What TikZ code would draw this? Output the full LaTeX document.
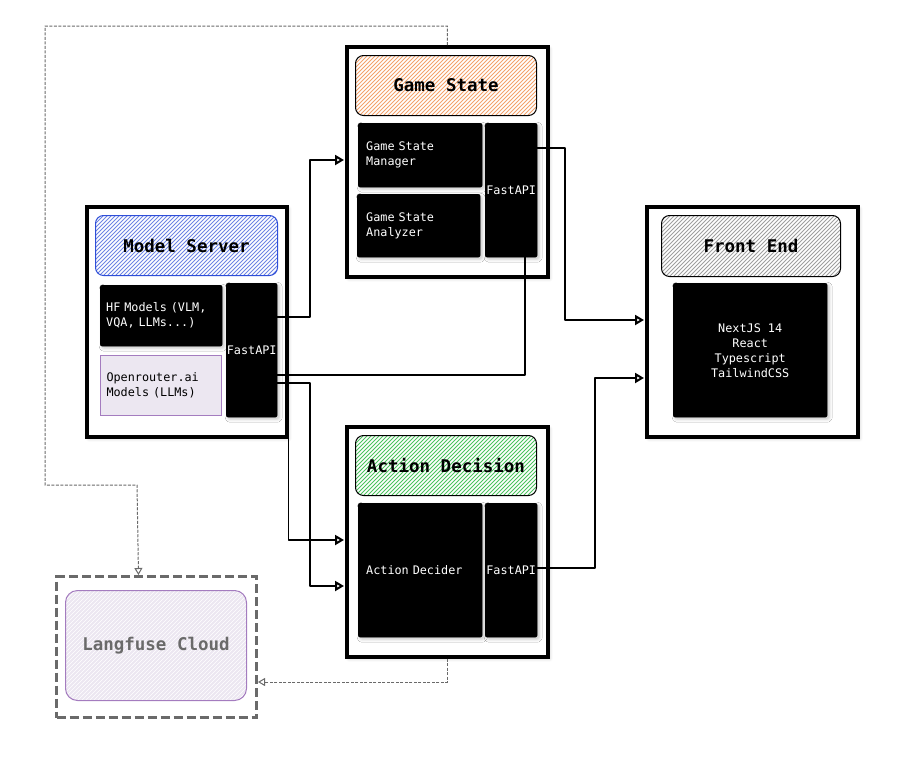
\documentclass[tikz,border=0pt]{standalone}
\usepackage{fontspec}
\setmonofont{DejaVu Sans Mono}
\usetikzlibrary{positioning, calc, arrows.meta, shadows.blur}
\definecolor{msblue}{HTML}{2F4FD8}
\definecolor{gsorange}{HTML}{F4A26B}
\definecolor{adgreen}{HTML}{4CC35E}
\definecolor{lavfill}{HTML}{ECE7F1}
\definecolor{lavline}{HTML}{A47CBF}
\definecolor{lfgray}{HTML}{6A6A6A}
\tikzset{sized/.style 2 args={minimum width=#1, minimum height=#2}}
\tikzset{softshadow/.style={blur shadow={shadow xshift=2pt, shadow yshift=-2pt, shadow blur radius=3pt, shadow opacity=22}}}
\tikzset{hatched/.style 2 args={path picture={
    \foreach \i in {-200,-196,...,220}
      \draw[#1, line width=#2] ([xshift=\i pt]path picture bounding box.south west) -- ++(120pt,120pt);}}}
\tikzset{outerbox/.style={draw=black, line width=3.5pt, fill=white, softshadow, anchor=north west, inner sep=0pt}}
\tikzset{titlebox/.style 2 args={draw=#1, line width=1pt, rounded corners=8pt, fill=white, hatched={#2}{1pt}, font=\ttfamily\bfseries\fontsize{17.5}{20}\selectfont, anchor=north west, inner sep=0pt}}
\tikzset{blk/.style={draw=black, fill=black, rounded corners=2pt, text=white, softshadow, font=\ttfamily\fontsize{11.8}{15}\selectfont, anchor=north west, inner sep=0pt}}
\tikzset{lefttext/.style={align=left, text width=#1, inner xsep=7pt}}
\tikzset{lavbox/.style={draw=lavline, line width=1pt, fill=lavfill, font=\ttfamily\fontsize{11.8}{15}\selectfont, anchor=north west, inner sep=0pt}}
\tikzset{arr/.style={draw, line width=1.6pt, line join=round, shorten >=1pt, -{Triangle[open, length=9pt, width=10pt, line width=2pt]}}}
\tikzset{wire/.style={draw, line width=1.6pt, line join=round}}
\tikzset{darr/.style={draw=lfgray, line width=1pt, dash pattern=on 3pt off 1.5pt, -{Triangle[open, length=7pt, width=8pt]}}}
\begin{document}
\begin{tikzpicture}[x=1pt, y=-1pt]
  \useasboundingbox (0,0) rectangle (918,779);
  % Model Server
  \node[outerbox, sized={200pt}{230pt}] (ms) at (85,205) {};
  \node[titlebox={msblue}{msblue!70}, sized={182pt}{60pt}] (mst) at (95,215) {Model Server};
  \node[blk, lefttext=110pt, sized={122pt}{61pt}, inner xsep=6pt] (hf) at (100,285) {HF Models (VLM,\\VQA, LLMs...)};
  \node[lavbox, lefttext=109pt, sized={121pt}{60pt}, inner xsep=6pt] (or) at (100,355) {Openrouter.ai\\Models (LLMs)};
  \node[blk, sized={51pt}{134pt}] (msapi) at (226,283) {FastAPI};
  % Game State
  \node[outerbox, sized={201pt}{230pt}] (gs) at (345,45) {};
  \node[titlebox={black}{gsorange}, sized={181pt}{60pt}] (gst) at (355,55) {Game State};
  \node[blk, lefttext=108pt, sized={124pt}{64pt}, inner xsep=8pt] (gsm) at (358,123) {Game State\\Manager};
  \node[blk, lefttext=105pt, sized={123pt}{63pt}, inner xsep=9pt] (gsa) at (357,194) {Game State\\Analyzer};
  \node[blk, sized={52pt}{134pt}] (gsapi) at (485,123) {FastAPI};
  % Action Decision
  \node[outerbox, sized={201pt}{230pt}] (ad) at (345,425) {};
  \node[titlebox={black}{adgreen}, sized={181pt}{60pt}] (adt) at (355,435) {Action Decision};
  \node[blk, lefttext=108pt, sized={124pt}{134pt}, inner xsep=8pt] (add) at (358,503) {Action Decider};
  \node[blk, sized={52pt}{134pt}] (adapi) at (485,503) {FastAPI};
  % Front End
  \node[outerbox, sized={211pt}{230pt}] (fe) at (645,205) {};
  \node[titlebox={black}{gray!75}, sized={179pt}{61pt}] (fet) at (661,215) {Front End};
  \node[blk, sized={154pt}{134pt}, align=center] (fej) at (673,283) {NextJS 14\\React\\Typescript\\TailwindCSS};
  % Langfuse
  \node[draw=lfgray, line width=3pt, dash pattern=on 9pt off 4pt, sized={200pt}{141pt}, anchor=north west, inner sep=0pt] (lf) at (55,575) {};
  \node[draw=lavline, line width=1pt, rounded corners=12pt, fill=lavfill, hatched={white}{0.5pt}, sized={181pt}{110pt}, anchor=north west, inner sep=0pt, text=lfgray, font=\ttfamily\bfseries\fontsize{17.5}{20}\selectfont] (lfi) at (65,590) {Langfuse Cloud};
  % connectors
  \draw[arr] (msapi.east |- 0,317) -| (310,160) -- (gs.west |- 0,160);
  \draw[wire] (msapi.east |- 0,375) -| ([xshift=14pt]gsapi.south);
  \draw[arr] (msapi.east |- 0,383) -| (310,586) -- (ad.west |- 0,586);
  \draw[arr] (ms.east |- 0,380) -- (ms.east |- 0,540) -- (ad.west |- 0,540);
  \draw[arr] (gsapi.east |- 0,148) -| (565,320) -- (fe.west |- 0,320);
  \draw[arr] (adapi.east |- 0,568) -| (595,378) -- (fe.west |- 0,378);
  \draw[darr] (gs.north) |- (45,26) |- (137,485) -- ([xshift=-18pt]lf.north);
  \draw[darr] (ad.south) |- ([yshift=-35pt]lf.east);
\end{tikzpicture}
\end{document}
